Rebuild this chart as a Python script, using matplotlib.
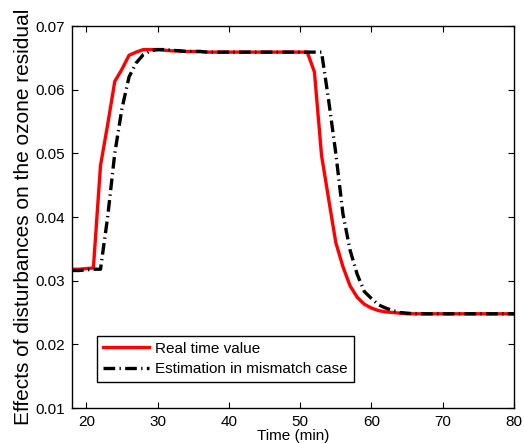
import numpy as np
import matplotlib
matplotlib.use('Agg')
import matplotlib.pyplot as plt

matplotlib.rcParams['font.family'] = ['Liberation Sans', 'DejaVu Sans']

# time axis (min)
t = np.arange(18, 81)

# real time value
real = ([0.0318, 0.0318, 0.0319, 0.0320, 0.0481, 0.0545, 0.0613, 0.0632, 0.0654, 0.0659] +   # 18-27
        [0.0663, 0.0663, 0.0663, 0.0662, 0.0661, 0.0661, 0.0660, 0.0660, 0.0660, 0.0659] +   # 28-37
        [0.0659] * 10 +                                                                       # 38-47
        [0.0659, 0.0659, 0.0659, 0.0659, 0.0628, 0.0497, 0.0428, 0.0360, 0.0322, 0.0292] +   # 48-57
        [0.0274, 0.0263, 0.0257, 0.0253, 0.0251, 0.0250, 0.0249, 0.0248, 0.0248, 0.0248] +   # 58-67
        [0.0248] * 13)                                                                        # 68-80

# estimation in mismatch case
est = ([0.0316, 0.0316, 0.0317, 0.0318, 0.0318, 0.0400, 0.0500, 0.0570, 0.0620, 0.0642] +    # 18-27
       [0.0655, 0.0661, 0.0663, 0.0663, 0.0662, 0.0661, 0.0660, 0.0660, 0.0660, 0.0659] +    # 28-37
       [0.0659] * 10 +                                                                        # 38-47
       [0.0659, 0.0659, 0.0659, 0.0659, 0.0659, 0.0659, 0.0583, 0.0500, 0.0405, 0.0348] +    # 48-57
       [0.0310, 0.0283, 0.0272, 0.0262, 0.0257, 0.0253, 0.0250, 0.0249, 0.0248, 0.0248] +    # 58-67
       [0.0248] * 13)                                                                         # 68-80

fig = plt.figure(figsize=(5.24, 4.44), dpi=100)
ax = fig.add_axes([0.1374, 0.081, 0.8436, 0.8604])

ax.plot(t, real, color='#ff0000', lw=2.4, label='Real time value')
ax.plot(t, est, color='black', lw=2.4, linestyle=(0, (3.5, 1.3, 0.4, 1.3)),
        label='Estimation in mismatch case')

ax.set_xlim(18, 80)
ax.set_ylim(0.01, 0.07)
ax.set_xticks(np.arange(20, 81, 10))
ax.set_yticks(np.arange(0.01, 0.0701, 0.01))
ax.set_yticklabels(['%.2f' % v for v in np.arange(0.01, 0.0701, 0.01)])
ax.tick_params(direction='in', top=True, right=True, labelsize=11, length=4, width=0.8)
ax.tick_params(axis='x', pad=5)
ax.tick_params(axis='y', pad=5)
for s in ax.spines.values():
    s.set_linewidth(1.0)

ax.set_xlabel('Time (min)', fontsize=11, labelpad=0)
ax.set_ylabel('Effects of disturbances on the ozone residual', fontsize=15, labelpad=2)

leg = ax.legend(loc='lower left', bbox_to_anchor=(0.057, 0.068), borderaxespad=0,
                fontsize=11, fancybox=False, framealpha=1, edgecolor='black',
                handlelength=3.0, borderpad=0.4, labelspacing=0.4, handletextpad=0.4)
leg.get_frame().set_linewidth(1.0)

fig.savefig('out.png', dpi=100)
